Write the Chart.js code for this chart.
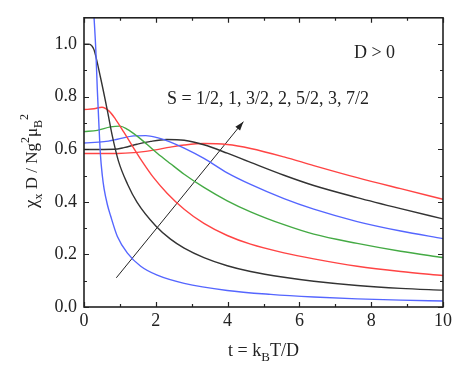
<!DOCTYPE html>
<html>
<head>
<meta charset="utf-8">
<script src="https://cdn.jsdelivr.net/npm/chart.js@4.4.0/dist/chart.umd.min.js"></script>
<style>
  body { margin: 0; background: #fff; }
</style>
</head>
<body>
<canvas id="chart" width="457" height="373"></canvas>
<script>
// values (t = kB T / D, chi = chi_x D / N g^2 muB^2)
var tHalf   = [0.26, 0.28, 0.33, 0.37, 0.42, 0.46, 0.51, 0.56, 0.65, 0.74, 0.93, 1.21, 1.58, 2.04, 2.79, 3.99, 5.2, 6.4, 7.61, 8.82, 10];
var chiHalf = [1.14, 1.10, 0.975, 0.83, 0.68, 0.575, 0.50, 0.449, 0.39, 0.347, 0.268, 0.205, 0.155, 0.121, 0.09, 0.063, 0.048, 0.038, 0.031, 0.026, 0.023];

var tOne    = [0, 0.14, 0.22, 0.28, 0.46, 0.65, 0.79, 0.96, 1.21, 1.48, 2.0, 2.41, 2.79, 3.34, 3.99, 4.64, 5.57, 6.4, 7.61, 8.82, 10];
var chiOne  = [1.0, 1.0, 0.993, 0.978, 0.873, 0.748, 0.65, 0.555, 0.468, 0.398, 0.308, 0.258, 0.224, 0.188, 0.157, 0.135, 0.113, 0.098, 0.082, 0.071, 0.064];

var tThreeHalf   = [0, 0.28, 0.5, 0.7, 0.88, 1.11, 1.35, 1.6, 1.95, 2.32, 2.79, 3.34, 3.99, 4.64, 5.57, 6.4, 7.61, 8.82, 10];
var chiThreeHalf = [0.751, 0.754, 0.760, 0.745, 0.714, 0.665, 0.612, 0.558, 0.49, 0.432, 0.372, 0.318, 0.272, 0.239, 0.206, 0.183, 0.155, 0.135, 0.12];

var tTwo    = [0, 0.37, 0.74, 1.0, 1.21, 1.48, 1.76, 2.04, 2.41, 2.79, 3.34, 3.99, 4.64, 5.57, 6.4, 7.61, 8.82, 10];
var chiTwo  = [0.667, 0.672, 0.685, 0.688, 0.676, 0.65, 0.618, 0.585, 0.545, 0.505, 0.455, 0.404, 0.362, 0.313, 0.277, 0.242, 0.212, 0.188];

var tFiveHalf   = [0, 0.56, 0.93, 1.39, 1.72, 2.04, 2.41, 2.79, 3.34, 3.99, 4.64, 5.57, 6.4, 7.61, 8.82, 10];
var chiFiveHalf = [0.624, 0.629, 0.638, 0.651, 0.652, 0.644, 0.627, 0.604, 0.565, 0.51, 0.466, 0.412, 0.372, 0.325, 0.289, 0.26];

var tThree   = [0, 0.84, 1.11, 1.48, 1.86, 2.3, 2.79, 3.34, 3.99, 4.64, 5.57, 6.4, 7.61, 8.82, 10];
var chiThree = [0.599, 0.600, 0.606, 0.619, 0.630, 0.637, 0.634, 0.617, 0.585, 0.55, 0.501, 0.462, 0.416, 0.374, 0.335];

var tSevenHalf   = [0, 0.93, 1.39, 1.86, 2.41, 2.79, 3.34, 3.99, 4.64, 5.57, 6.4, 7.61, 8.82, 10];
var chiSevenHalf = [0.584, 0.584, 0.587, 0.595, 0.608, 0.616, 0.622, 0.618, 0.603, 0.571, 0.538, 0.492, 0.45, 0.41];

var arrowT   = [0.9, 4.44];
var arrowChi = [0.111, 0.705];

var xTicks = [0, 2, 4, 6, 8, 10];
var xMinor = [1, 3, 5, 7, 9];
var yTicks = [0.0, 0.2, 0.4, 0.6, 0.8, 1.0];
var yMinor = [0.1, 0.3, 0.5, 0.7, 0.9];

var spinLabel = "S = 1/2, 1, 3/2, 2, 5/2, 3, 7/2";
var signLabel = "D > 0";

var FONT = "'Liberation Serif', serif";
var INK = '#222';

function pts(ts, vs) {
    var out = [];
    for (var i = 0; i < ts.length; i++) out.push({x: ts[i], y: vs[i]});
    return out;
}

function curve(ts, vs, color) {
    return {
        data: pts(ts, vs),
        borderColor: color,
        borderWidth: 1.4,
        pointRadius: 0,
        fill: false,
        cubicInterpolationMode: 'monotone'
    };
}

// draws frame, inward ticks, axis titles, annotations and arrow head
var extras = {
    id: 'extras',
    afterDatasetsDraw: function(chart) {
        var ctx = chart.ctx;
        var a = chart.chartArea;
        var xs = chart.scales.x, ys = chart.scales.y;
        ctx.save();
        ctx.strokeStyle = INK;
        ctx.lineWidth = 1.6;
        ctx.strokeRect(a.left, a.top, a.right - a.left, a.bottom - a.top);

        ctx.lineWidth = 1.2;
        ctx.beginPath();
        function xt(v, len) {
            var p = Math.round(xs.getPixelForValue(v)) + 0.5;
            ctx.moveTo(p, a.bottom); ctx.lineTo(p, a.bottom - len);
            ctx.moveTo(p, a.top); ctx.lineTo(p, a.top + len);
        }
        function yt(v, len) {
            var p = Math.round(ys.getPixelForValue(v)) + 0.5;
            ctx.moveTo(a.left, p); ctx.lineTo(a.left + len, p);
            ctx.moveTo(a.right, p); ctx.lineTo(a.right - len, p);
        }
        xTicks.forEach(function(v) { xt(v, 5); });
        xMinor.forEach(function(v) { xt(v, 3); });
        yTicks.forEach(function(v) { yt(v, 5); });
        yMinor.forEach(function(v) { yt(v, 3); });
        ctx.stroke();

        // arrow head
        var x0 = xs.getPixelForValue(arrowT[0]), y0 = ys.getPixelForValue(arrowChi[0]);
        var x1 = xs.getPixelForValue(arrowT[1]), y1 = ys.getPixelForValue(arrowChi[1]);
        var ang = Math.atan2(y1 - y0, x1 - x0);
        ctx.fillStyle = INK;
        ctx.beginPath();
        ctx.moveTo(x1, y1);
        ctx.lineTo(x1 - 9 * Math.cos(ang) + 3 * Math.sin(ang), y1 - 9 * Math.sin(ang) - 3 * Math.cos(ang));
        ctx.lineTo(x1 - 9 * Math.cos(ang) - 3 * Math.sin(ang), y1 - 9 * Math.sin(ang) + 3 * Math.cos(ang));
        ctx.closePath();
        ctx.fill();

        // annotations
        ctx.font = '18px ' + FONT;
        ctx.textBaseline = 'alphabetic';
        ctx.textAlign = 'left';
        ctx.fillText(signLabel, xs.getPixelForValue(7.52), ys.getPixelForValue(0.948));
        ctx.fillText(spinLabel, xs.getPixelForValue(2.31), ys.getPixelForValue(0.773));

        // rich text pieces: [text, shift (em, + = down), scale]
        function rich(parts, size) {
            var w = 0;
            parts.forEach(function(p) {
                ctx.font = Math.round(size * p[2]) + 'px ' + FONT;
                p.w = ctx.measureText(p[0]).width;
                w += p.w;
            });
            return w;
        }
        function drawRich(parts, size, x, y) {
            parts.forEach(function(p) {
                ctx.font = Math.round(size * p[2]) + 'px ' + FONT;
                ctx.fillText(p[0], x, y + p[1] * size);
                x += p.w;
            });
        }

        var xTitle = [['t = k', 0, 1], ['B', 0.3, 0.7], ['T/D', 0, 1]];
        var wx = rich(xTitle, 18);
        drawRich(xTitle, 18, (a.left + a.right) / 2 - wx / 2, 356);

        var yTitle = [['\u03c7', 0, 1.1], ['x', 0.3, 0.7], [' D / Ng', 0, 1], ['2', -0.45, 0.7],
                      ['\u03bc', 0, 1], ['B', 0.3, 0.7], ['2', -0.55, 0.7]];
        var wy = rich(yTitle, 17);
        ctx.translate(37, 161);
        ctx.rotate(-Math.PI / 2);
        drawRich(yTitle, 17, -wy / 2, 0);
        ctx.restore();
    }
};

function draw() {
    var ctx = document.getElementById('chart');
    var chartParams = {
        type: 'line',
        data: {
            datasets: [
                curve(tHalf, chiHalf, '#5566ff'),
                curve(tOne, chiOne, '#333333'),
                curve(tThreeHalf, chiThreeHalf, '#ff4444'),
                curve(tTwo, chiTwo, '#44aa44'),
                curve(tFiveHalf, chiFiveHalf, '#5566ff'),
                curve(tThree, chiThree, '#333333'),
                curve(tSevenHalf, chiSevenHalf, '#ff4444'),
                {
                    data: pts(arrowT, arrowChi),
                    borderColor: INK,
                    borderWidth: 1,
                    pointRadius: 0,
                    fill: false
                }
            ]
        },
        options: {
            responsive: false,
            animation: false,
            devicePixelRatio: 1,
            layout: { padding: { left: 0, right: 14, top: 12, bottom: 0 } },
            plugins: { legend: { display: false }, tooltip: { enabled: false } },
            scales: {
                x: {
                    type: 'linear', min: 0, max: 10,
                    grid: { display: false, drawTicks: false },
                    border: { display: false },
                    afterBuildTicks: function(s) { s.ticks = xTicks.map(function(v) { return {value: v}; }); },
                    afterFit: function(s) { s.height = 66; },
                    ticks: { color: INK, padding: 3, maxRotation: 0, font: { family: FONT, size: 18 },
                             callback: function(v) { return String(v); } }
                },
                y: {
                    type: 'linear', min: 0, max: 1.1,
                    grid: { display: false, drawTicks: false },
                    border: { display: false },
                    afterBuildTicks: function(s) { s.ticks = yTicks.map(function(v) { return {value: v}; }); },
                    afterFit: function(s) { s.width = 84; },
                    ticks: { color: INK, padding: 7, font: { family: FONT, size: 18 },
                             callback: function(v) { return v.toFixed(1); } }
                }
            }
        },
        plugins: [extras]
    };
    new Chart(ctx, chartParams);
}

document.fonts.load("18px 'Liberation Serif'").then(draw, draw);
</script>
</body>
</html>
